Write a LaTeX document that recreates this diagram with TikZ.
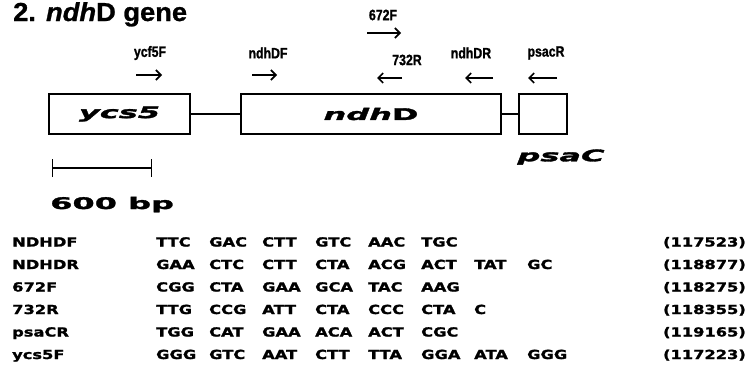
\documentclass[tikz,border=0pt]{standalone}
\usepackage{fontspec}
\setmainfont{Liberation Sans}
\newfontfamily\titlefont{Liberation Sans}[FakeStretch=1.05,FakeBold=1]
\newfontfamily\narrowfont{Liberation Sans}[FakeStretch=0.82,FakeBold=1.2]
\newfontfamily\widefont{DejaVu Sans}[FakeStretch=2.0,FakeBold=2]
\newfontfamily\tabfont{DejaVu Sans}[FakeStretch=1.3,FakeBold=1.6]
\usetikzlibrary{arrows.meta}
\tikzset{gene/.style={draw,line width=1.3pt,minimum height=40pt,inner sep=0pt},
  wlab/.style={inner sep=0pt,font=\widefont\bfseries\fontsize{16}{18}\selectfont},
  primer/.style={inner sep=0pt,font=\narrowfont\bfseries\fontsize{15}{17}\selectfont},
  parr/.style={line width=1.6pt,-{Straight Barb[length=5pt,width=10pt]}},
  tab/.style={inner sep=0pt,font=\tabfont\bfseries\fontsize{12.5}{14}\selectfont},
  link/.style={line width=1.1pt}}
\begin{document}
\begin{tikzpicture}[x=1pt,y=-1pt]
\useasboundingbox (0,0) rectangle (752,372);
\node[anchor=base west,inner sep=0pt,font=\titlefont\bfseries\fontsize{26}{28}\selectfont] (title) at (13,21) {2. \textit{ndh}D gene};

\node[gene,wlab,minimum width=141pt] (ycs) at (119.5,114) {\itshape ycs5};
\node[gene,wlab,minimum width=260pt] (ndh) at (371,114) {{\itshape ndh}D};
\node[gene,minimum width=48pt] (psa) at (543,114) {};
\node[wlab] (psalab) at (561,157) {\itshape psaC};
\draw[link] (ycs) -- (ndh);
\draw[link] (ndh) -- (psa);

\foreach \nm/\lx/\ly/\ax/\bx/\ay in {ycf5F/150/53/136/162/75, ndhDF/268/53/252/277/75, 672F/383/15/367/401/33,
  732R/407/60/402/377/78, ndhDR/471/53/493/465/78, psacR/546/53/557/528/78}{
 \node[primer] (\nm) at (\lx,\ly) {\nm};
 \coordinate (\nm-a) at (\ax,\ay);
 \coordinate (\nm-b) at (\bx,\ay);
 \draw[parr] (\nm-a) -- (\nm-b);}

\coordinate (bar-l) at (52,168);
\coordinate (bar-r) at (152,168);
\draw[line width=1.3pt,{Bar[width=18pt]}-{Bar[width=18pt]}] (bar-l) -- (bar-r);
\node[wlab,anchor=base west] (bp) at (50,209) {600 bp};

\foreach \i/\lab/\cods/\num in {0/NDHDF/{TTC,GAC,CTT,GTC,AAC,TGC}/117523,
  1/NDHDR/{GAA,CTC,CTT,CTA,ACG,ACT,TAT,GC}/118877,
  2/672F/{CGG,CTA,GAA,GCA,TAC,AAG}/118275,
  3/732R/{TTG,CCG,ATT,CTA,CCC,CTA,C}/118355,
  4/psaCR/{TGG,CAT,GAA,ACA,ACT,CGC}/119165,
  5/ycs5F/{GGG,GTC,AAT,CTT,TTA,GGA,ATA,GGG}/117223}{
 \node[tab,anchor=base west] (lab\i) at (12,246.5+22.5*\i) {\lab};
 \foreach \c [count=\k] in \cods
  \node[tab,anchor=base west] (cod\i-\k) at (103+53*\k,246.5+22.5*\i) {\c};
 \node[tab,anchor=base east] (num\i) at (746,246.5+22.5*\i) {(\num)};}
\end{tikzpicture}
\end{document}
